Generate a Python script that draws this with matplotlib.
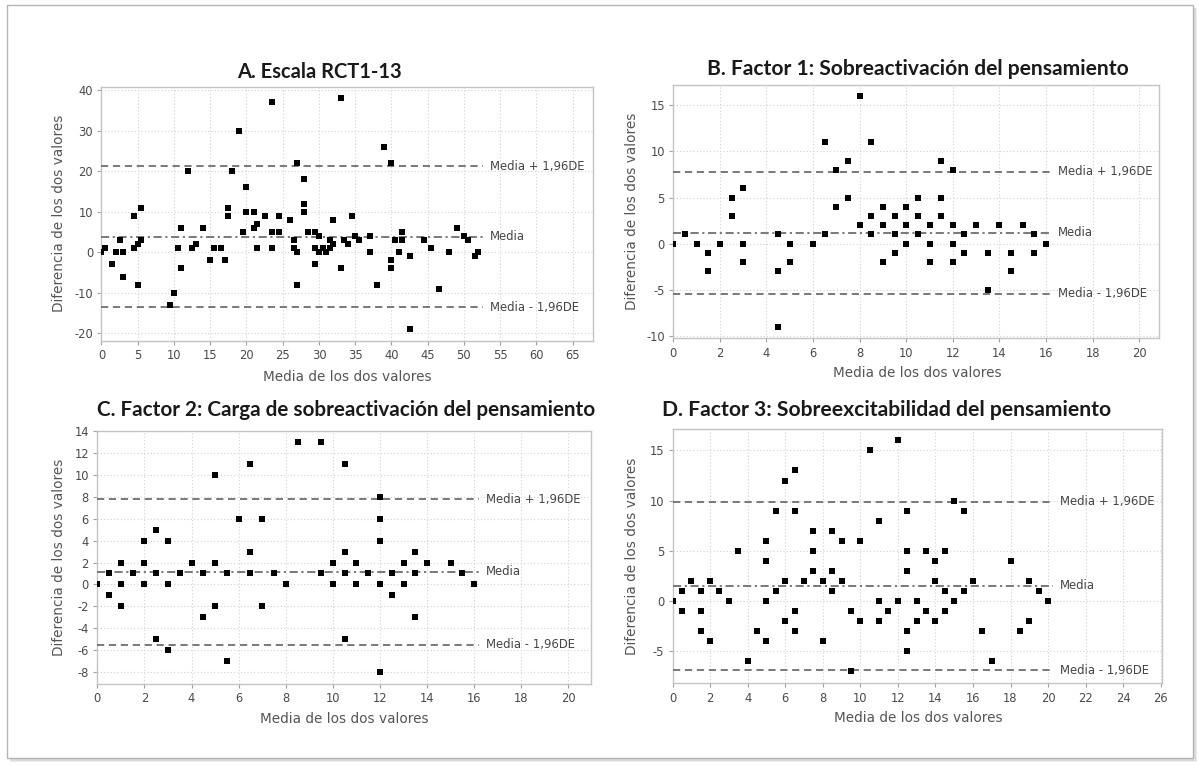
import matplotlib
matplotlib.use("Agg")
import matplotlib.pyplot as plt
from matplotlib.patches import Rectangle
from matplotlib.ticker import MultipleLocator

plt.rcParams["axes.unicode_minus"] = False

# ---------------- data ----------------
a_x = [0, 0.5, 1.5, 2, 2.5, 3, 3, 4.5, 4.5, 5, 5, 5.5, 5.5, 9.5, 10, 10.5, 11, 11, 12, 12.5,
       13, 14, 15, 15.5, 16.5, 17, 17.5, 17.5, 18, 19, 19.5, 20, 20, 21, 21, 21.5, 21.5, 22.5,
       23.5, 23.5, 23.5, 24.5, 24.5, 26, 26.5, 26.5, 27, 27, 27, 28, 28, 28, 28.5, 29.5, 29.5,
       29.5, 30, 30, 30.5, 31, 31.5, 31.5, 32, 32, 33, 33, 33.5, 34, 34.5, 35, 35.5, 37, 37, 38,
       39, 40, 40, 40, 40.5, 41, 41.5, 41.5, 42.5, 42.5, 44.5, 45.5, 46.5, 48, 49, 50, 50.5,
       51.5, 52]
a_y = [0, 1, -3, 0, 3, 0, -6, 9, 1, 2, -8, 3, 11, -13, -10, 1, 6, -4, 20, 1,
       2, 6, -2, 1, 1, -2, 11, 9, 20, 30, 5, 16, 10, 10, 6, 7, 1, 9,
       37, 5, 1, 9, 5, 8, 3, 1, 0, -8, 22, 18, 12, 10, 5, 5, 1,
       -3, 4, 0, 1, 0, 1, 3, 2, 8, 38, -4, 3, 2, 9, 4, 3, 4, 0, -8,
       26, 22, -2, -4, 3, 0, 5, 3, -1, -19, 3, 1, -9, 0, 6, 4, 3,
       -1, 0]

b_x = [0, 0.5, 1, 1.5, 1.5, 2, 2.5, 2.5, 3, 3, 3, 4.5, 4.5, 4.5, 5, 5, 6, 6.5, 6.5, 7, 7,
       7.5, 7.5, 8, 8, 8.5, 8.5, 8.5, 9, 9, 9, 9.5, 9.5, 9.5, 10, 10, 10, 10.5, 10.5, 10.5,
       11, 11, 11, 11.5, 11.5, 11.5, 12, 12, 12, 12, 12.5, 12.5, 13, 13.5, 13.5, 14, 14.5,
       14.5, 15, 15.5, 15.5, 16]
b_y = [0, 1, 0, -1, -3, 0, 5, 3, 6, 0, -2, 1, -3, -9, 0, -2, 0, 11, 1, 8, 4,
       9, 5, 16, 2, 11, 3, 1, 4, 2, -2, 3, 1, -1, 4, 2, 0, 5, 3, 1,
       2, 0, -2, 9, 5, 3, 8, 2, 0, -2, 1, -1, 2, -1, -5, 2, -1,
       -3, 2, 1, -1, 0]

c_x = [0, 0.5, 0.5, 1, 1, 1, 1.5, 2, 2, 2, 2.5, 2.5, 2.5, 3, 3, 3, 3.5, 4, 4.5, 4.5, 5, 5,
       5, 5.5, 5.5, 6, 6.5, 6.5, 6.5, 7, 7, 7.5, 8, 8.5, 9.5, 9.5, 10, 10, 10.5, 10.5, 10.5,
       10.5, 11, 11, 11.5, 12, 12, 12, 12, 12, 12.5, 12.5, 13, 13, 13.5, 13.5, 13.5, 14, 15,
       15.5, 16]
c_y = [0, 1, -1, 2, 0, -2, 1, 4, 2, 0, 5, 1, -5, 4, 0, -6, 1, 2, 1, -3, 10, 2,
       -2, 1, -7, 6, 11, 3, 1, 6, -2, 1, 0, 13, 13, 1, 2, 0, 11, 3, 1,
       -5, 2, 0, 1, 8, 6, 4, 0, -8, 1, -1, 2, 0, 3, 1, -3, 2, 2,
       1, 0]

d_x = [0, 0.5, 0.5, 1, 1.5, 1.5, 1.5, 2, 2, 2.5, 3, 3.5, 4, 4.5, 5, 5, 5, 5, 5.5, 5.5, 6, 6,
       6, 6.5, 6.5, 6.5, 6.5, 7, 7.5, 7.5, 7.5, 8, 8, 8.5, 8.5, 8.5, 9, 9, 9.5, 9.5, 10, 10,
       10.5, 11, 11, 11, 11.5, 12, 12, 12.5, 12.5, 12.5, 12.5, 12.5, 13, 13, 13.5, 13.5, 14,
       14, 14, 14.5, 14.5, 14.5, 15, 15, 15.5, 15.5, 16, 16.5, 17, 18, 18.5, 19, 19, 19.5, 20]
d_y = [0, 1, -1, 2, 1, -1, -3, 2, -4, 1, 0, 5, -6, -3, 6, 4, 0, -4, 9, 1, 12, 2,
       -2, 13, 9, -1, -3, 2, 7, 5, 3, 2, -4, 7, 3, 1, 6, 2, -1, -7, 6, -2,
       15, 8, 0, -2, -1, 16, 0, 9, 5, 3, -3, -5, 0, -2, 5, -1, 4,
       2, -2, 5, 1, -1, 10, 0, 9, 1, 2, -3, -6, 4, -3, 2, -2, 1, 0]

# mean and limits of agreement (mean, mean + 1.96 SD, mean - 1.96 SD)
a_lines = [3.8, 21.2, -13.6]
b_lines = [1.2, 7.8, -5.4]
c_lines = [1.15, 7.8, -5.5]
d_lines = [1.5, 9.9, -6.9]

titles = ["A. Escala RCT1-13",
          "B. Factor 1: Sobreactivación del pensamiento",
          "C. Factor 2: Carga de sobreactivación del pensamiento",
          "D. Factor 3: Sobreexcitabilidad del pensamiento"]
line_labels = ["Media", "Media + 1,96DE", "Media - 1,96DE"]
x_label = "Media de los dos valores"
y_label = "Diferencia de los dos valores"

# ---------------- layout ----------------
W, H = 1199, 765
fig = plt.figure(figsize=(W / 100, H / 100), dpi=100)
fig.patch.set_facecolor("white")


def fx(px):
    return px / W


def fy(py):
    return 1 - py / H


# frame with soft shadow
for off, col in [(4, "#ececec"), (2.5, "#dcdcdc")]:
    fig.patches.append(Rectangle((fx(7 + off), fy(758 + off)), fx(1186), (758 - 5) / H,
                                 transform=fig.transFigure, facecolor=col,
                                 edgecolor="none", zorder=0))
fig.patches.append(Rectangle((fx(7), fy(758)), fx(1186), (758 - 5) / H,
                             transform=fig.transFigure, facecolor="white",
                             edgecolor="#b4b4b4", linewidth=1.0, zorder=0.5))

panels = [
    dict(x=a_x, y=a_y, lines=a_lines, rect=(101.4, 87, 593, 341), xlim=(0, 67.8),
         ylim=(-21.9, 40.74), xstep=5, ystep=10, title=titles[0], tpos=(319, 72), tw=166,
         xl=(347, 377), yl=(59, 213)),
    dict(x=b_x, y=b_y, lines=b_lines, rect=(673.3, 85, 1159, 338.3), xlim=(0, 20.85),
         ylim=(-10.25, 17.2), xstep=2, ystep=5, title=titles[1], tpos=(918, 69), tw=424,
         xl=(917, 373), yl=(632, 211)),
    dict(x=c_x, y=c_y, lines=c_lines, rect=(97.3, 430.7, 591, 684), xlim=(0, 20.96),
         ylim=(-9.1, 14.05), xstep=2, ystep=2, title=titles[2], tpos=(346, 410), tw=499,
         xl=(344, 719), yl=(59, 557)),
    dict(x=d_x, y=d_y, lines=d_lines, rect=(672.5, 429.3, 1161.7, 683.3), xlim=(0, 26.05),
         ylim=(-8.2, 17.1), xstep=2, ystep=5, title=titles[3], tpos=(887, 410), tw=452,
         xl=(918, 718), yl=(632, 556)),
]

tick_col = "#4a4a4a"
title_texts = []
for p in panels:
    l, t, r, b = p["rect"]
    ax = fig.add_axes([fx(l), fy(b), (r - l) / W, (b - t) / H])
    ax.set_facecolor("white")
    ax.set_zorder(2)
    ax.set_xlim(*p["xlim"])
    ax.set_ylim(*p["ylim"])
    ax.xaxis.set_major_locator(MultipleLocator(p["xstep"]))
    ax.yaxis.set_major_locator(MultipleLocator(p["ystep"]))
    ax.grid(True, color="#d2d2d2", linestyle=(0, (1, 2)), linewidth=0.8)
    ax.set_axisbelow(True)
    for s in ax.spines.values():
        s.set_color("#c4c4c4")
        s.set_linewidth(1.0)
    ax.tick_params(axis="both", direction="out", length=3, width=0.8, color="#a0a0a0",
                   labelsize=8.3, labelcolor=tick_col, pad=3)
    for lab in ax.get_xticklabels() + ax.get_yticklabels():
        lab.set_family("DejaVu Sans")

    x_end = max(p["x"]) + 0.01 * (p["xlim"][1] - p["xlim"][0])
    mean, up, lo = p["lines"]
    ax.plot([p["xlim"][0], x_end], [up, up], color="#6e6e6e", lw=1.3, dashes=(4, 2.6),
            zorder=3)
    ax.plot([p["xlim"][0], x_end], [lo, lo], color="#6e6e6e", lw=1.3, dashes=(4, 2.6),
            zorder=3)
    ax.plot([p["xlim"][0], x_end], [mean, mean], color="#6e6e6e", lw=1.3,
            dashes=(4.5, 2, 1.2, 2), zorder=3)
    for val, txt in zip([mean, up, lo], line_labels):
        ax.annotate(txt, xy=(x_end, val), xytext=(5, 0), textcoords="offset points",
                    ha="left", va="center", fontsize=8.4, color="#454545",
                    family="DejaVu Sans", zorder=4)

    ax.plot(p["x"], p["y"], linestyle="none", marker="s", markersize=4.2,
            color="black", markeredgewidth=0, zorder=5)

    fig.text(fx(p["xl"][0]), fy(p["xl"][1]), x_label, ha="center", va="center",
             fontsize=9.8, color="#555555", family="DejaVu Sans")
    fig.text(fx(p["yl"][0]), fy(p["yl"][1]), y_label, ha="center", va="center",
             rotation=90, fontsize=9.8, color="#555555", family="DejaVu Sans")
    tt = fig.text(fx(p["tpos"][0]), fy(p["tpos"][1]), p["title"], ha="center",
                  va="center", fontsize=14, fontweight="bold", color="#1a1a1a",
                  family=["Lato", "DejaVu Sans"])
    title_texts.append((tt, p["tw"]))

fig.canvas.draw()
renderer = fig.canvas.get_renderer()
for tt, tw in title_texts:
    w = tt.get_window_extent(renderer).width
    tt.set_fontsize(tt.get_fontsize() * tw / w)

fig.savefig("out.png", dpi=100, facecolor="white")
